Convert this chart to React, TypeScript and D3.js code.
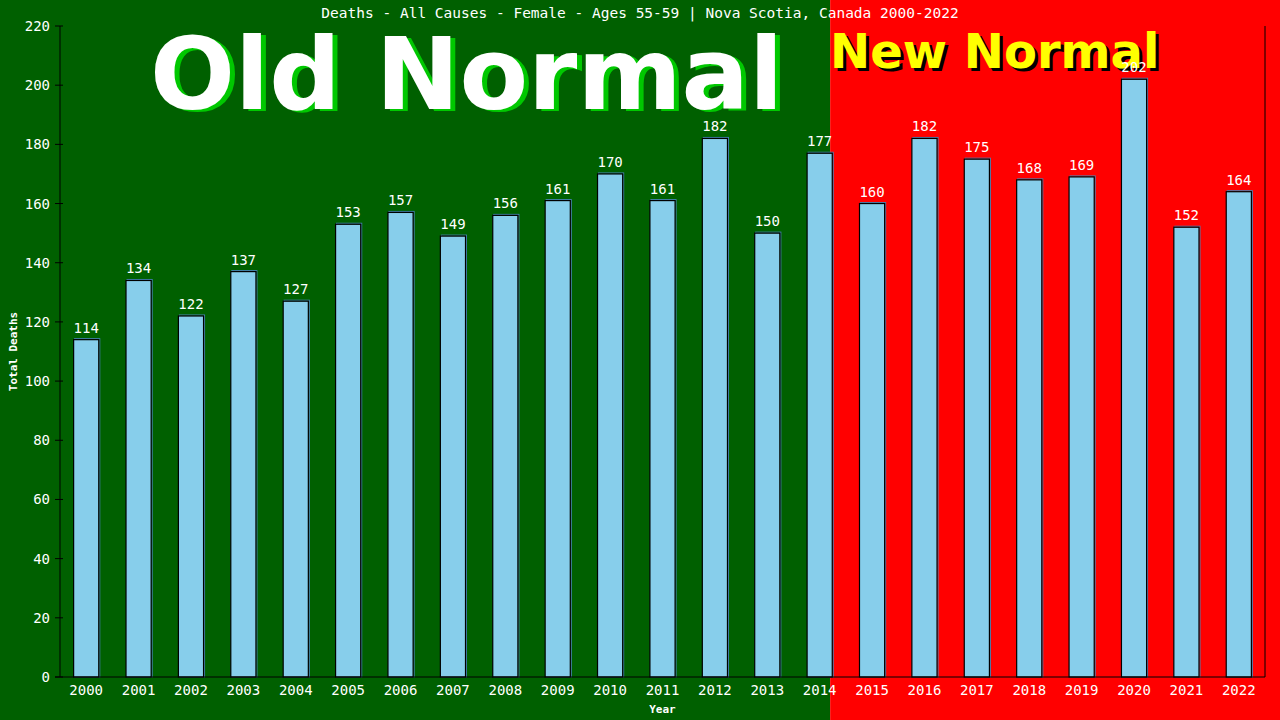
import React from 'react';
import * as d3 from 'd3';

const years = ['2000', '2001', '2002', '2003', '2004', '2005', '2006', '2007', '2008', '2009', '2010', '2011',
    '2012', '2013', '2014', '2015', '2016', '2017', '2018', '2019', '2020', '2021', '2022'];
const deaths = [114, 134, 122, 137, 127, 153, 157, 149, 156, 161, 170, 161, 182, 150, 177, 160, 182, 175, 168, 169, 202, 152, 164];
const yTicks = [0, 20, 40, 60, 80, 100, 120, 140, 160, 180, 200, 220];
const lastOldYear = '2014';

const title = 'Deaths - All Causes - Female - Ages 55-59 | Nova Scotia, Canada 2000-2022';

const width = 1280;
const height = 720;
const margin = { top: 26, right: 15, bottom: 43, left: 60 };
const mono = '"DejaVu Sans Mono", monospace';

const App: React.FC = () => {
    const x = d3.scaleBand<string>()
        .domain(years)
        .range([margin.left, width - margin.right]);

    const y = d3.scaleLinear()
        .domain([0, 220])
        .range([height - margin.bottom, margin.top]);

    const barW = x.bandwidth() * 0.48;
    const splitX = (x(lastOldYear) ?? 0) + x.bandwidth() * 0.7;
    const baseY = y(0);

    return (
        <svg width={width} height={height}
            style={{ position: 'absolute', left: 0, top: 0, display: 'block' }}>
            {/* background halves */}
            <rect x={0} y={0} width={splitX} height={height} fill="#006000" />
            <rect x={splitX} y={0} width={width - splitX} height={height} fill="#ff0000" />

            {/* big labels */}
            <g fontFamily='"DejaVu Sans", sans-serif' fontWeight="bold">
                <text x={155} y={111} fontSize={100} fill="#00c800">Old Normal</text>
                <text x={150} y={109} fontSize={100} fill="#ffffff">Old Normal</text>
                <text x={833} y={71} fontSize={48} fill="#000000">New Normal</text>
                <text x={830} y={68} fontSize={48} fill="#ffff00">New Normal</text>
            </g>

            <text x={640} y={18} textAnchor="middle" fontFamily={mono} fontSize={14.5} fill="#ffffff">{title}</text>

            {/* bars */}
            {years.map((yr, i) => {
                const cx = (x(yr) ?? 0) + x.bandwidth() / 2;
                const top = y(deaths[i]);
                return (
                    <g key={yr}>
                        <rect x={cx - barW / 2 + 1} y={top - 1} width={barW} height={baseY - top + 1}
                            fill="none" stroke="#4682b4" strokeWidth={1} />
                        <rect x={cx - barW / 2} y={top} width={barW} height={baseY - top}
                            fill="#87ceeb" stroke="#000000" strokeWidth={1.2} />
                        <text x={cx} y={top - 7} textAnchor="middle" fontFamily={mono} fontSize={14}
                            fill="#ffffff">{deaths[i]}</text>
                    </g>
                );
            })}

            {/* y axis */}
            <line x1={margin.left} x2={margin.left} y1={margin.top} y2={baseY} stroke="#000" />
            <line x1={width - margin.right} x2={width - margin.right} y1={margin.top} y2={baseY} stroke="#000" />
            {yTicks.map(t => (
                <g key={t}>
                    <line x1={margin.left - 5} x2={margin.left + 3} y1={y(t)} y2={y(t)} stroke="#000" />
                    <text x={50} y={y(t) + 5} textAnchor="end" fontFamily={mono} fontSize={14}
                        fill="#ffffff">{t}</text>
                </g>
            ))}

            {/* x axis */}
            <line x1={margin.left - 5} x2={width - margin.right} y1={baseY} y2={baseY} stroke="#000" />
            {years.map(yr => (
                <text key={yr} x={(x(yr) ?? 0) + x.bandwidth() / 2} y={695} textAnchor="middle"
                    fontFamily={mono} fontSize={14} fill="#ffffff">{yr}</text>
            ))}

            <text x={(margin.left + width - margin.right) / 2} y={713} textAnchor="middle"
                fontFamily={mono} fontSize={11} fontWeight="bold" fill="#ffffff">Year</text>
            <text transform={`translate(17,${(margin.top + baseY) / 2}) rotate(-90)`} textAnchor="middle"
                fontFamily={mono} fontSize={11} fontWeight="bold" fill="#ffffff">Total Deaths</text>
        </svg>
    );
};

export default App;
